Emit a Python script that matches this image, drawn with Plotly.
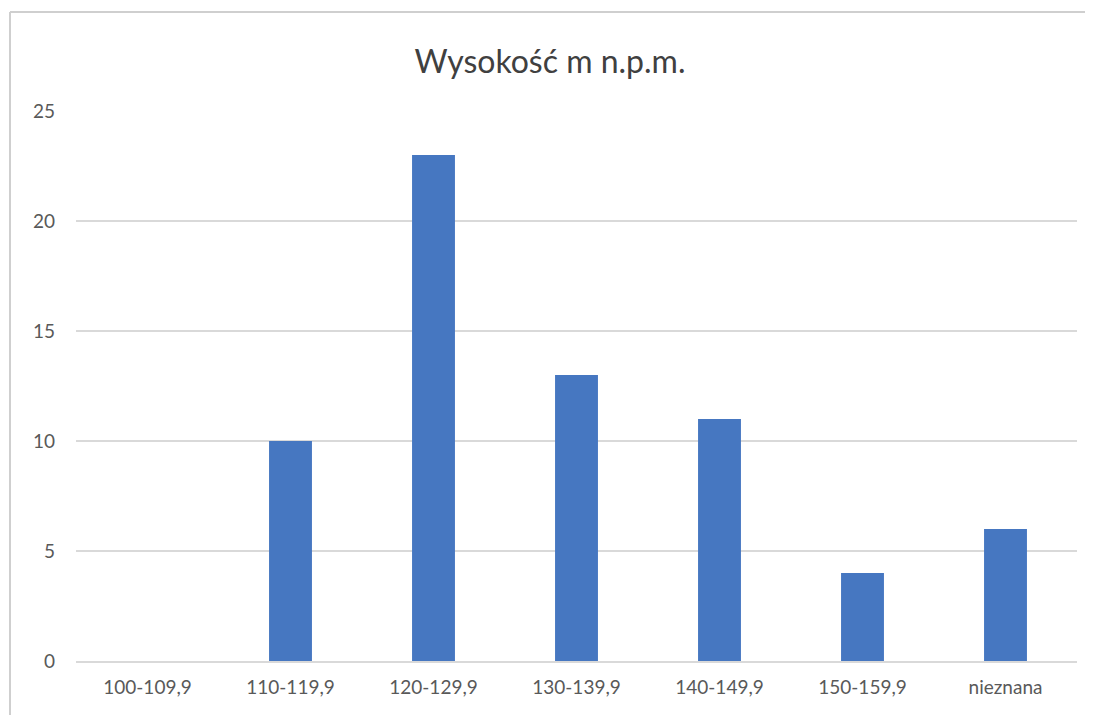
import plotly.graph_objects as go

categories = ["100-109,9", "110-119,9", "120-129,9", "130-139,9", "140-149,9", "150-159,9", "nieznana"]
values = [0, 10, 23, 13, 11, 4, 6]
y_ticks = [0, 5, 10, 15, 20, 25]
title_text = "Wysokość m n.p.m."

# page has an 8px body margin; figure size compensates
OFF = 8
W, H = 1093 - OFF, 715 - OFF
L, R, T, B = 76 - OFF, 16, 111 - OFF, 54
pw, ph = W - L - R, H - T - B

fig = go.Figure(go.Bar(x=categories, y=values, marker_color="#4677C1", marker_line_width=0))

fig.update_layout(
    width=W, height=H,
    margin=dict(l=L, r=R, t=T, b=B),
    paper_bgcolor="white", plot_bgcolor="white",
    bargap=0.7,
    showlegend=False,
    font=dict(family="Lato, 'Open Sans', sans-serif", color="#595959", size=19),
    title=dict(text=title_text, x=(550 - OFF) / W, xanchor="center", y=(H - (62 - OFF)) / H, yanchor="middle",
               font=dict(size=32, color="#404040")),
    xaxis=dict(showgrid=False, showline=True, linecolor="#d9d9d9", linewidth=1.5,
               ticks="", ticklabelstandoff=8, tickfont=dict(size=19, color="#595959")),
    yaxis=dict(range=[0, 25], tickvals=y_ticks, showgrid=True, gridcolor="#d9d9d9", gridwidth=1.5,
               zeroline=False, showline=False, ticks="", ticklabelstandoff=20,
               tickfont=dict(size=19, color="#595959")),
)

bx0 = (10 - 76) / pw
by1 = (661 - 12) / ph
fig.add_shape(type="line", xref="paper", yref="paper",
              x0=bx0, x1=(1400 - 76) / pw, y0=by1, y1=by1,
              line=dict(color="#cfcfcf", width=2), layer="below")
fig.add_shape(type="line", xref="paper", yref="paper",
              x0=bx0, x1=bx0, y0=(661 - 900) / ph, y1=by1,
              line=dict(color="#cfcfcf", width=2), layer="below")

fig.write_html("out.html")
